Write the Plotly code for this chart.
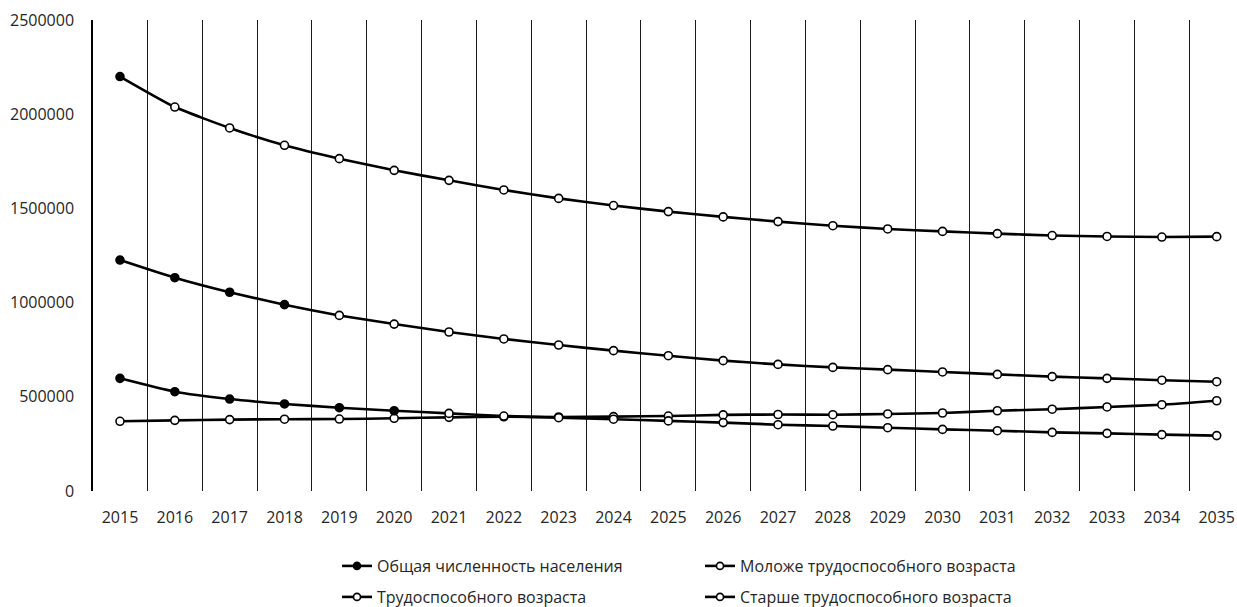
import plotly.graph_objects as go

years = list(range(2015, 2036))
series_names = [
    "Общая численность населения",
    "Моложе трудоспособного возраста",
    "Трудоспособного возраста",
    "Старше трудоспособного возраста",
]
total = [2200000, 2038000, 1927000, 1835000, 1764000, 1702000, 1649000, 1598000, 1553000, 1515000,
         1483000, 1455000, 1430000, 1408000, 1391000, 1378000, 1366000, 1356000, 1351000, 1348000, 1350000]
younger = [598000, 527000, 488000, 462000, 442000, 426000, 412000, 398000, 389000, 381000,
           372000, 363000, 352000, 345000, 336000, 327000, 320000, 311000, 306000, 299000, 294000]
working = [1226000, 1132000, 1055000, 989000, 932000, 886000, 844000, 807000, 775000, 745000,
           718000, 692000, 672000, 656000, 644000, 632000, 619000, 607000, 598000, 588000, 580000]
older = [370000, 375000, 379000, 381000, 382000, 386000, 391000, 394000, 393000, 395000,
         398000, 404000, 406000, 405000, 409000, 414000, 426000, 434000, 446000, 458000, 479000]
y_ticks = [0, 500000, 1000000, 1500000, 2000000, 2500000]

values = [total, younger, working, older]
# style: number of leading points drawn with a filled marker (as in the original picture)
filled_count = [1, 6, 4, 0]
legend_filled = [True, False, False, False]
legend_group = ["legend", "legend", "legend2", "legend2"]

FONT = "Open Sans"
FS = 16
fig = go.Figure()

for idx in [3, 1, 2, 0]:
    vals = values[idx]
    fills = ["black" if i < filled_count[idx] else "white" for i in range(len(vals))]
    fig.add_trace(go.Scatter(
        x=years, y=vals, mode="lines+markers", name=series_names[idx], showlegend=False,
        line=dict(color="black", width=2.6, shape="spline", smoothing=0.5),
        marker=dict(size=8, color=fills, line=dict(color="black", width=1.6), symbol="circle"),
    ))

for idx in range(4):
    fig.add_trace(go.Scatter(
        x=[None], y=[None], mode="lines+markers", name=series_names[idx],
        legend=legend_group[idx],
        line=dict(color="black", width=2.6),
        marker=dict(size=7, color="black" if legend_filled[idx] else "white",
                    line=dict(color="black", width=1.6)),
    ))

leg_common = dict(orientation="h", xref="container", yref="container", xanchor="left",
                  yanchor="middle", entrywidth=318, entrywidthmode="pixels",
                  font=dict(family=FONT, size=FS, color="#262626"), bgcolor="rgba(0,0,0,0)",
                  itemclick=False, itemdoubleclick=False)

fig.update_layout(
    width=1237, height=607,
    margin=dict(l=93, r=0, t=20, b=116, autoexpand=False),
    paper_bgcolor="white", plot_bgcolor="white",
    font=dict(family=FONT, size=FS, color="#262626"),
    xaxis=dict(
        range=[2014.508, 2035.37], tickmode="array", tickvals=years, ticktext=[str(y) for y in years],
        showgrid=False, zeroline=False, showline=False, ticks="", automargin=False,
        ticklabelstandoff=15,
        minor=dict(tick0=2014.5, dtick=1, showgrid=True, gridcolor="#1a1a1a", gridwidth=1.2, ticks=""),
        tickfont=dict(family=FONT, size=FS, color="#262626"),
    ),
    yaxis=dict(
        range=[0, 2500000], tickmode="array", tickvals=y_ticks, tickformat="d",
        showgrid=False, zeroline=False, showline=True, linecolor="black", linewidth=1.5,
        ticks="", ticklabelstandoff=14, automargin=False,
        tickfont=dict(family=FONT, size=FS, color="#262626"),
    ),
    legend=dict(x=337 / 1237, y=1 - 566 / 607, **leg_common),
    legend2=dict(x=337 / 1237, y=1 - 597 / 607, **leg_common),
    showlegend=True,
)

fig.write_html("out.html", config={"displayModeBar": False},
               post_script="document.body.style.margin='0px';document.body.style.overflow='hidden';")
